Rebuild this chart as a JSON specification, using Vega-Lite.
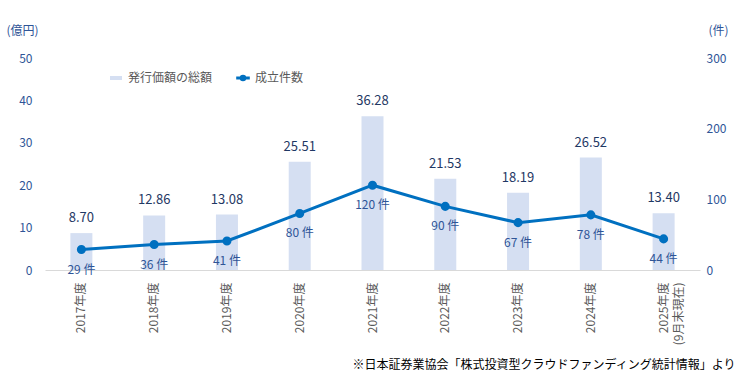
{
  "$schema": "https://vega.github.io/schema/vega-lite/v6.json",
  "width": 655,
  "height": 212,
  "autosize": {"type": "none"},
  "padding": {"left": 45, "top": 58, "right": 42, "bottom": 114},
  "background": "white",
  "config": {"font": "Noto Sans CJK JP", "view": {"stroke": null}},
  "title": {"text": "株式投資型　クラウドファンディング（新株予約権含む）", "fontSize": 13, "fontWeight": "normal", "color": "#595959", "offset": 30, "anchor": "middle"},
  "data": {"values": [
    {"year": "2017年度", "amount": 8.70, "count": 29},
    {"year": "2018年度", "amount": 12.86, "count": 36},
    {"year": "2019年度", "amount": 13.08, "count": 41},
    {"year": "2020年度", "amount": 25.51, "count": 80},
    {"year": "2021年度", "amount": 36.28, "count": 120},
    {"year": "2022年度", "amount": 21.53, "count": 90},
    {"year": "2023年度", "amount": 18.19, "count": 67},
    {"year": "2024年度", "amount": 26.52, "count": 78},
    {"year": "2025年度\n(9月末現在)", "amount": 13.40, "count": 44}
  ]},
  "encoding": {
    "x": {
      "field": "year", "type": "nominal", "sort": null,
      "scale": {"paddingInner": 0, "paddingOuter": 0},
      "axis": {
        "title": "※日本証券業協会「株式投資型クラウドファンディング統計情報」より",
        "titleFontSize": 12, "titleFontWeight": "normal", "titleColor": "#000000",
        "titleX": 690, "titleY": 94, "titleAlign": "right", "titleAnchor": null, "titleBaseline": "middle",
        "labelAngle": 270, "labelFontSize": 12, "labelColor": "#595959", "labelPadding": 12,
        "labelExpr": "split(datum.label, '\\n')", "labelLineHeight": 15,
        "ticks": false, "domainColor": "#d9d9d9", "domainWidth": 1, "grid": false
      }
    }
  },
  "layer": [
    {
      "encoding": {
        "y": {"field": "amount", "type": "quantitative", "scale": {"domain": [0, 50]},
          "axis": {"title": "(億円)", "titleAngle": 0, "titleX": -23, "titleY": -28, "titleAlign": "center", "titleBaseline": "middle",
            "titleFontSize": 12, "titleFontWeight": "normal", "titleColor": "#2f5597",
            "values": [0, 10, 20, 30, 40, 50], "grid": false, "domain": false, "ticks": false,
            "labelPadding": 13, "labelFontSize": 12, "labelColor": "#2f5597"}}
      },
      "layer": [
        {
          "mark": {"type": "bar", "size": 22},
          "encoding": {
            "fill": {"datum": "発行価額の総額", "type": "nominal",
              "scale": {"range": ["#d5dff2"]},
              "legend": {"title": null, "orient": "none", "legendX": 65, "legendY": 14,
                "symbolType": "M-1.5,-0.5H1.5V0.5H-1.5Z", "symbolSize": 64, "symbolStrokeWidth": 0,
                "labelFontSize": 12, "labelColor": "#595959", "labelOffset": 6}}
          }
        },
        {
          "mark": {"type": "text", "baseline": "bottom", "dy": -8, "fontSize": 13, "color": "#1f3864"},
          "encoding": {
            "text": {"field": "amount", "type": "quantitative", "format": ".2f"}
          }
        }
      ]
    },
    {
      "encoding": {
        "y": {"field": "count", "type": "quantitative", "scale": {"domain": [0, 300]},
          "axis": {"orient": "right", "title": "(件)", "titleAngle": 0, "titleX": 18, "titleY": -28, "titleAlign": "center", "titleBaseline": "middle",
            "titleFontSize": 12, "titleFontWeight": "normal", "titleColor": "#2f5597",
            "values": [0, 100, 200, 300], "grid": false, "domain": false, "ticks": false,
            "labelPadding": 6, "labelFontSize": 12, "labelColor": "#2f5597"}}
      },
      "layer": [
        {
          "mark": {"type": "line", "strokeWidth": 3, "point": {"filled": true, "size": 50, "color": "#0070c0"}},
          "encoding": {
            "stroke": {"datum": "成立件数", "type": "nominal",
              "scale": {"range": ["#0070c0"]},
              "legend": {"title": null, "orient": "none", "legendX": 192, "legendY": 14,
                "symbolType": "M-1.7,0H1.7M0.45,0A0.45,0.45 0 1,1 -0.45,0A0.45,0.45 0 1,1 0.45,0Z", "symbolSize": 64,
                "symbolStrokeWidth": 3, "symbolFillColor": "#0070c0",
                "labelFontSize": 12, "labelColor": "#595959", "labelOffset": 6}}
          }
        },
        {
          "transform": [{"calculate": "datum.count + ' 件'", "as": "label"}],
          "mark": {"type": "text", "baseline": "middle", "dy": 20, "fontSize": 12, "color": "#2f5597"},
          "encoding": {
            "text": {"field": "label", "type": "nominal"}
          }
        }
      ]
    }
  ],
  "resolve": {"scale": {"y": "independent", "fill": "independent", "stroke": "independent"}}
}
